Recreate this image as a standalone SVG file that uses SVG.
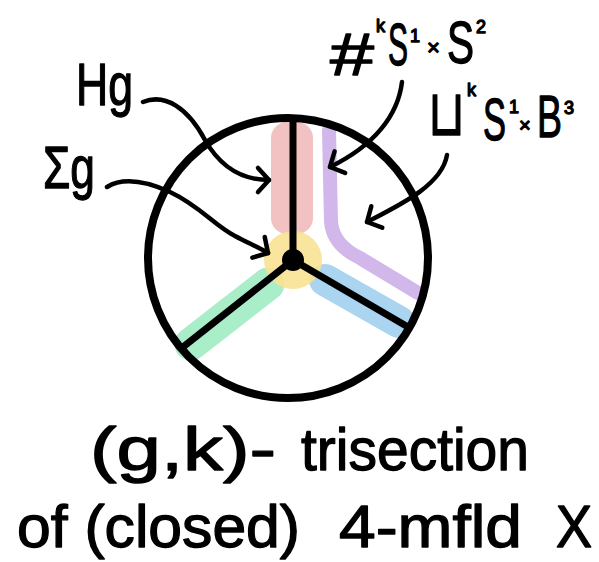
<svg xmlns="http://www.w3.org/2000/svg" width="599" height="562" viewBox="0 0 599 562">
<style>
.hand{font-family:"Liberation Sans","DejaVu Sans",sans-serif;fill:#000;stroke:#000;stroke-width:1.3;stroke-linejoin:round}
.big{font-size:60px}
.sup{font-size:18px}
.ink{fill:none;stroke:#000;stroke-linecap:round;stroke-linejoin:round}
.conn{fill:none;stroke:#000;stroke-width:4.5;stroke-linecap:round;stroke-linejoin:round}
.hl{fill:none;stroke-linecap:round;stroke-linejoin:round}
</style>
<defs>
<marker id="chev" viewBox="-16 -16 32 32" markerWidth="32" markerHeight="32" markerUnits="userSpaceOnUse" refX="0" refY="0" orient="auto" overflow="visible">
<path d="M-11,-12 L0,0 L-11,12" fill="none" stroke="#000" stroke-width="4.5" stroke-linecap="round" stroke-linejoin="round"/>
</marker>
</defs>
<rect width="599" height="562" fill="#fff"/>

<g id="highlights">
<rect x="271" y="122" width="42" height="112" rx="16" fill="#f2c2c3"/>
<path class="hl" d="M268,284 L191,344" stroke="#a9eec8" stroke-width="33"/>
<path class="hl" d="M325,280 L399,322" stroke="#aad4ef" stroke-width="32"/>
<path class="hl" d="M329,130 L331,222 Q333,245 360,258 L418,293" stroke="#d1b7ea" stroke-width="14" stroke-linecap="butt"/>
<circle cx="293" cy="260" r="29" fill="#f8e294" opacity="0.9"/>
</g>

<g id="trisection-diagram">
<circle class="ink" cx="288" cy="258" r="140" stroke-width="8"/>
<path class="ink" d="M293,120 L293,260 M293,260 L183,347 M293,260 L408,327" stroke-width="7"/>
<circle cx="293" cy="260" r="11" fill="#000"/>
</g>

<g id="label-Hg">
<text class="hand big" x="76" y="105" textLength="57" lengthAdjust="spacingAndGlyphs">Hg</text>
</g>
<g id="label-Sigma-g">
<text class="hand big" x="43" y="188" textLength="52" lengthAdjust="spacingAndGlyphs">Σg</text>
</g>
<g id="label-connect-sum">
<text class="hand"><tspan class="big" x="330" y="75" textLength="44" lengthAdjust="spacingAndGlyphs">#</tspan><tspan class="sup" x="376" y="32">k</tspan><tspan class="big" x="388" y="65" textLength="20" lengthAdjust="spacingAndGlyphs">S</tspan><tspan class="sup" x="410" y="42">1</tspan><tspan x="427" y="55" style="font-size:22px">×</tspan><tspan class="big" x="447" y="63" textLength="27" lengthAdjust="spacingAndGlyphs">S</tspan><tspan class="sup" x="476" y="33">2</tspan></text>
</g>
<g id="label-disjoint-union">
<text class="hand"><tspan x="428" y="135" style="font-size:64px" textLength="37" lengthAdjust="spacingAndGlyphs">⊔</tspan><tspan class="sup" x="467" y="96">k</tspan><tspan class="big" x="483" y="140" textLength="23" lengthAdjust="spacingAndGlyphs">S</tspan><tspan class="sup" x="509" y="113">1</tspan><tspan x="519" y="132" style="font-size:20px">×</tspan><tspan class="big" x="537" y="137" textLength="25" lengthAdjust="spacingAndGlyphs">B</tspan><tspan class="sup" x="564" y="114">3</tspan></text>
</g>

<g id="connectors">
<path class="conn" d="M143,102 C165,93 188,108 205,140 C222,170 245,180 269,180" marker-end="url(#chev)"/>
<path class="conn" d="M107,187 C125,176 150,183 170,192 C200,206 215,226 235,236 C248,243 258,247 268,253" marker-end="url(#chev)"/>
<path class="conn" d="M402,82 C398,115 375,145 330,167" marker-end="url(#chev)"/>
<path class="conn" d="M447,155 C442,185 400,205 367,222" marker-end="url(#chev)"/>
</g>

<g id="caption">
<text class="hand" x="90" y="470" style="font-size:62px" textLength="186" lengthAdjust="spacingAndGlyphs">(g,k)-</text>
<text class="hand big" x="301" y="470" textLength="228" lengthAdjust="spacingAndGlyphs">trisection</text>
<text class="hand big" x="17" y="547" textLength="283" lengthAdjust="spacingAndGlyphs">of (closed)</text>
<text class="hand big" x="339" y="547" textLength="183" lengthAdjust="spacingAndGlyphs">4-mfld</text>
<text class="hand big" x="556" y="547" textLength="36" lengthAdjust="spacingAndGlyphs">X</text>
</g>
</svg>
